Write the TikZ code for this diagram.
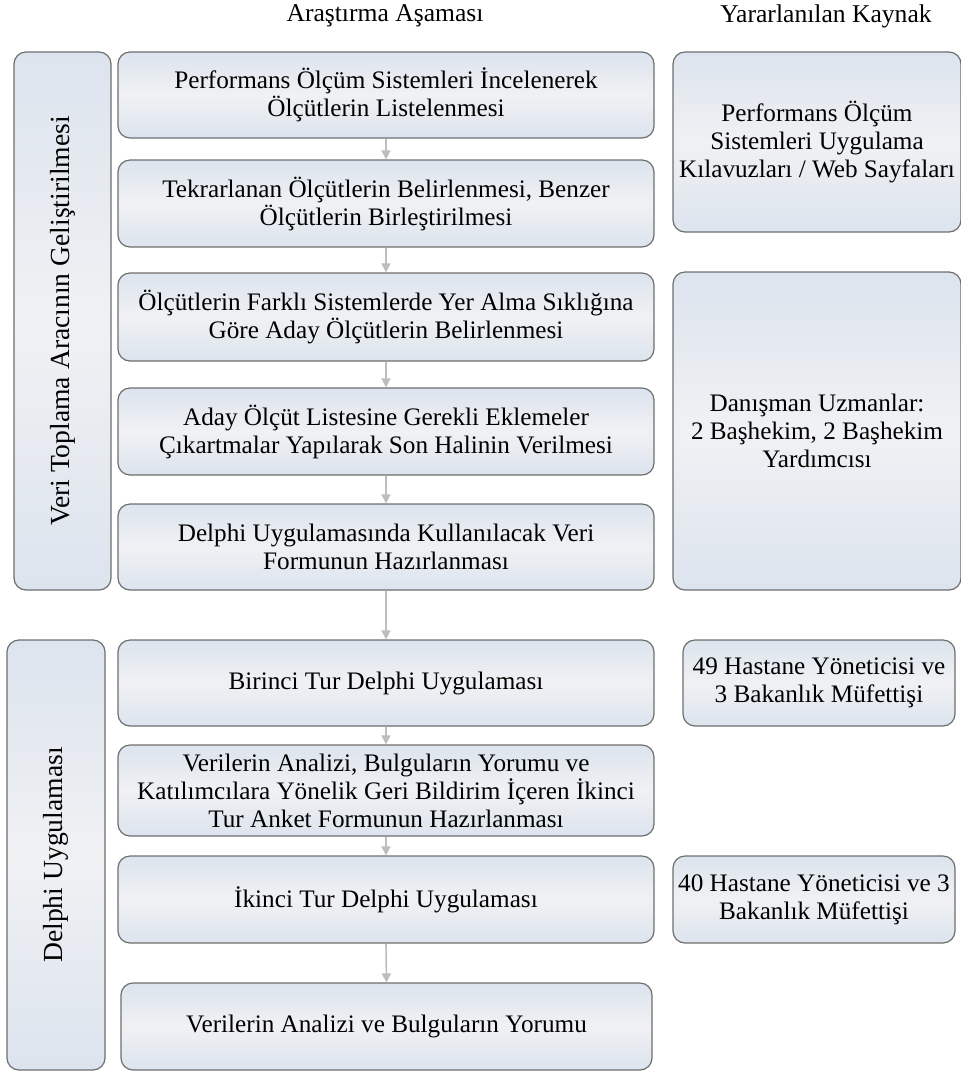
\documentclass[tikz,border=0pt]{standalone}
\usepackage{fontspec}
\setmainfont{Liberation Serif}
\usetikzlibrary{arrows.meta}
\definecolor{boxline}{HTML}{6E6E6E}
\definecolor{boxedge}{HTML}{DCE4EE}
\definecolor{boxmid}{HTML}{F0F1F3}
\definecolor{flowarrow}{HTML}{BDBDBD}
\tikzset{
  stagebox/.style={draw=boxline, line width=0.6pt, rounded corners=6pt,
    top color=boxedge, bottom color=boxedge, middle color=boxmid,
    align=center, font=\fontsize{12.6}{14}\selectfont, inner sep=2pt},
  flow/.style={draw=flowarrow, line width=0.8pt, -{Triangle[length=4.5pt,width=4.5pt]}},
  header/.style={font=\fontsize{12.8}{14}\selectfont},
  side/.style={font=\fontsize{13.8}{15}\selectfont, rotate=90}
}
% place a box from its pixel corners (x1,y1)-(x2,y2)
\newcommand\pbox[7][]{%
  \node[stagebox, #1, minimum width={(#5-#3)*0.5pt}, minimum height={(#6-#4)*0.5pt}]
    (#2) at ({(#3+#5)/2},{(#4+#6)/2}) {#7};}
\begin{document}
\begin{tikzpicture}[x=0.5pt, y=-0.5pt]
\useasboundingbox (0,0) rectangle (961,1073);

% column headers
\node[header] (h1) at (385,16) {Araştırma Aşaması};
\node[header] (h2) at (826,16) {Yararlanılan Kaynak};

% phase boxes on the left
\pbox{ph1}{14}{52}{111}{590}{}
\pbox{ph2}{7}{640}{105}{1070}{}
\node[side] (ph1t) at (ph1.center) {Veri Toplama Aracının Geliştirilmesi};
\node[side] (ph2t) at (ph2.center) {Delphi Uygulaması};

% research steps
\pbox{s1}{118}{52}{654}{138}{Performans Ölçüm Sistemleri İncelenerek\\Ölçütlerin Listelenmesi}
\pbox{s2}{118}{160}{654}{247}{Tekrarlanan Ölçütlerin Belirlenmesi, Benzer\\Ölçütlerin Birleştirilmesi}
\pbox{s3}{118}{273}{654}{361}{Ölçütlerin Farklı Sistemlerde Yer Alma Sıklığına\\Göre Aday Ölçütlerin Belirlenmesi}
\pbox{s4}{118}{388}{654}{475}{Aday Ölçüt Listesine Gerekli Eklemeler\\Çıkartmalar Yapılarak Son Halinin Verilmesi}
\pbox{s5}{118}{504}{654}{590}{Delphi Uygulamasında Kullanılacak Veri\\Formunun Hazırlanması}
\pbox{s6}{118}{640}{654}{726}{Birinci Tur Delphi Uygulaması}
\pbox{s7}{118}{745}{654}{836}{Verilerin Analizi, Bulguların Yorumu ve\\Katılımcılara Yönelik Geri Bildirim İçeren İkinci\\Tur Anket Formunun Hazırlanması}
\pbox{s8}{118}{856}{654}{943}{İkinci Tur Delphi Uygulaması}
\pbox{s9}{121}{983}{652}{1070}{Verilerin Analizi ve Bulguların Yorumu}

% sources
\pbox{r1}{673}{52}{961}{232}{Performans Ölçüm\\Sistemleri Uygulama\\Kılavuzları / Web Sayfaları}
\pbox{r2}{673}{272}{961}{590}{Danışman Uzmanlar:\\2 Başhekim, 2 Başhekim\\Yardımcısı}
\pbox{r3}{683}{640}{955}{726}{49 Hastane Yöneticisi ve\\3 Bakanlık Müfettişi}
\pbox{r4}{673}{856}{955}{943}{40 Hastane Yöneticisi ve 3\\Bakanlık Müfettişi}

% flow between steps
\foreach \a/\b in {s1/s2, s2/s3, s3/s4, s4/s5, s5/s6, s6/s7, s7/s8, s8/s9}
  \draw[flow] (\a.south) -- (\b.north);
\end{tikzpicture}
\end{document}
